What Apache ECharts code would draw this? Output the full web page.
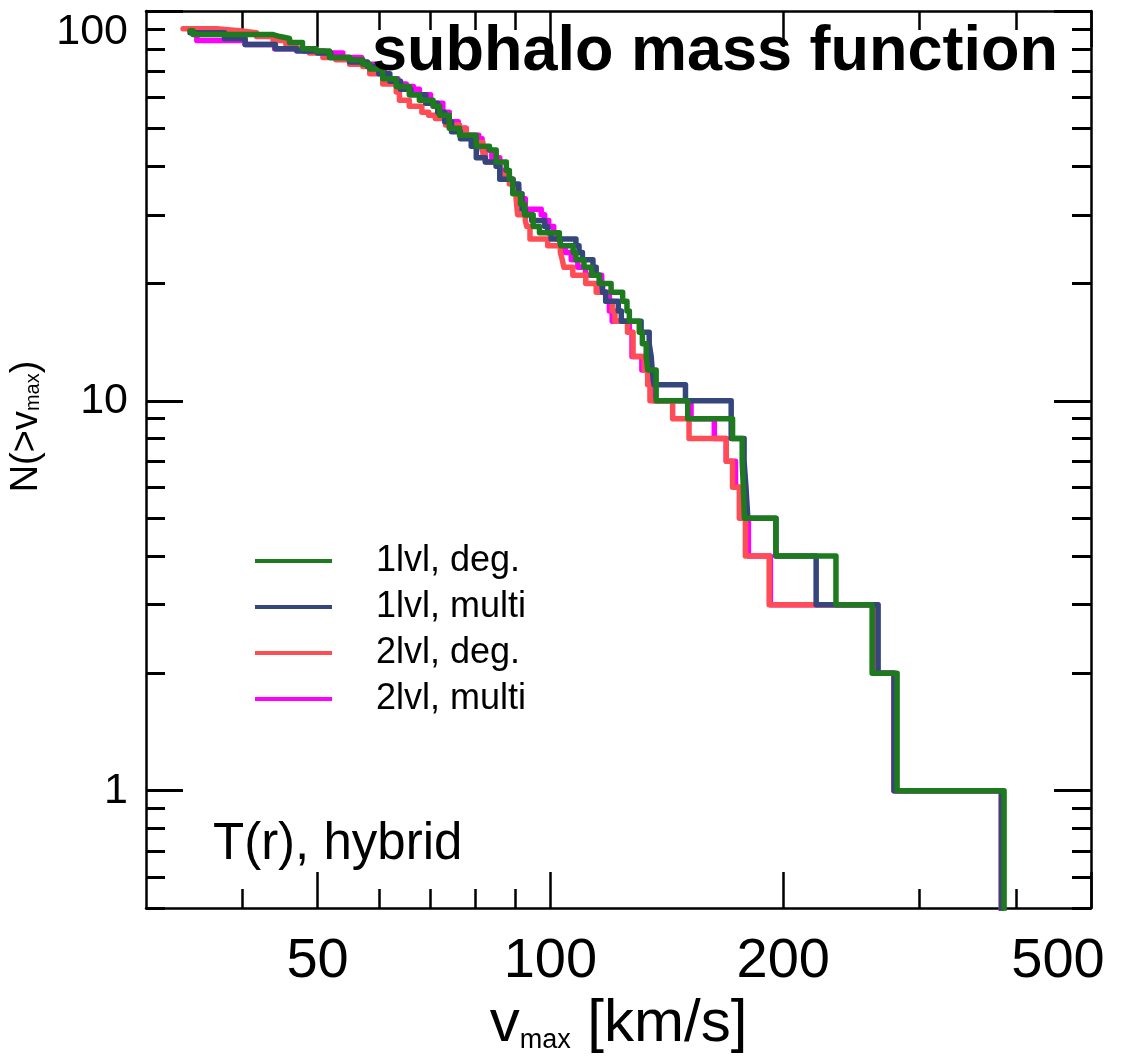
<!DOCTYPE html>
<html><head><meta charset="utf-8">
<script src="https://cdn.jsdelivr.net/npm/echarts@6/dist/echarts.min.js"></script>
<style>html,body{margin:0;padding:0;background:#fff}#c{width:1129px;height:1061px}</style>
</head><body><div id="c"></div>
<script>
// ---- tick values ----
const xMajorTicks = [50, 100, 200, 500];
const xMinorTicks = [40, 60, 70, 80, 90, 300, 400];
const yMajorTicks = [1, 10, 100];
const yMinorTicks = [0.5, 0.6, 0.7, 0.8, 0.9, 2, 3, 4, 5, 6, 7, 8, 9, 20, 30, 40, 50, 60, 70, 80, 90];

// ---- series names ----
const seriesNames = ['1lvl, deg.', '1lvl, multi', '2lvl, deg.', '2lvl, multi'];

// ---- cumulative counts N(>vmax): [vmax, N] (step changes) ----
const lvl1Deg = [[34.2,89],[34.5,87],[43.8,86],[44.7,85],[46.0,83],[47.8,80],[49.8,79],[51.8,76],[55.0,75],[57.2,73],[58.4,71],[60.7,67],[63.2,64],[65.7,61],[67.7,59],[70.5,57],[71.9,54],[74.0,50],[76.3,48],[80.2,45],[83.4,44],[85.1,41],[87.7,39],[88.5,37],[89.4,34],[91.5,32],[92.6,30],[95.0,28],[96.8,27],[102.7,26],[103.1,25],[107.0,24],[107.9,23],[110.5,22],[113.0,21],[115.7,20],[119.8,19],[124.0,18],[125.6,17],[126.5,16],[130.3,15],[131.5,14],[133.0,13],[133.6,12],[137.0,10],[150.5,9],[172.0,8],[177.0,7],[177.6,6],[178.2,5],[195.7,4],[234.0,3],[260.6,2],[280.7,1],[386,0.1]];
const lvl1Multi = [[34.2,88],[37.9,85],[40.3,82],[44.1,80],[47.0,79],[50.0,78],[52.0,76],[55.0,74],[58.0,72],[60.0,69],[62.0,66],[64.0,63],[66.0,61],[69.0,58],[71.5,55],[73.0,52],[74.5,49],[76.5,47],[79.0,45],[80.2,42],[82.4,41],[85.1,40],[86.0,37],[89.4,36],[91.0,34],[91.9,31],[92.8,30],[94.6,29],[98.3,28],[99.2,27],[100.2,26],[107.9,25],[108.9,24],[110.0,23],[113.5,22],[114.6,21],[115.7,20],[116.8,19],[117.9,18],[122.4,17],[123.5,16],[131.0,15],[134.2,14],[135.0,13],[135.4,12],[136.1,11],[149.5,10],[171.3,8],[178.0,7],[179.0,6],[180.0,5],[195.7,4],[220.6,3],[265.3,2],[278.2,1],[383,0.1]];
const lvl2Deg = [[33.5,90],[37.0,89],[39.6,88],[41.7,86],[43.8,84],[45.5,82],[46.9,80],[48.8,78],[50.8,76],[52.8,75],[55.0,73],[57.2,72],[58.4,69],[60.7,65],[63.2,62],[63.8,59],[65.7,57],[68.2,55],[69.6,54],[71.0,53],[73.2,51],[76.3,50],[77.8,48],[79.3,46],[81.8,43],[82.4,41],[85.1,40],[86.0,38],[88.5,36],[89.4,35],[90.3,33],[90.7,30],[92.8,29],[93.2,28],[94.1,26],[99.2,25],[103.0,24],[103.6,23],[104.1,22],[106.9,21],[111.1,20],[114.6,19],[117.9,18],[120.2,17],[121.2,16],[125.8,15],[127.9,13],[132.2,12],[133.6,11],[134.5,10],[143.9,9],[151.1,8],[168.8,7],[172.0,6],[175.5,5],[178.7,4],[191.8,3],[264.5,2],[278.2,1],[383,0.1]];
const lvl2Multi = [[34.5,88],[34.9,84],[40.3,82],[44.0,80],[48.0,79],[51.0,78],[53.9,76],[57.0,73],[59.0,70],[61.0,67],[63.5,65],[65.1,64],[66.5,63],[67.7,61],[70.0,58],[72.6,55],[74.0,52],[76.0,50],[77.8,48],[80.8,47],[81.6,44],[84.0,42],[86.0,39],[88.0,37],[89.5,35],[91.0,33],[92.8,31],[97.3,30],[98.3,29],[99.5,28],[101.0,27],[102.0,26],[103.0,25],[104.5,24],[106.4,23],[108.5,22],[111.0,21],[116.5,19],[119.2,17],[120.2,16],[126.5,15],[127.5,13],[131.3,12],[134.5,11],[136.0,10],[152.0,9],[162.9,8],[168.8,7],[173.5,6],[176.0,5],[180.3,4],[192.5,3],[264.0,2],[278.2,1],[383,0.1]];

const FONT = "'Liberation Sans', Arial, Helvetica, sans-serif";
const colors = {g:'#1e7a1e', b:'#34467c', r:'#ff4d55', m:'#ff00ff'};

function xAxisDef(pos, ticks, len, labels, line) {
  return {
    type:'log', logBase:10, min:30, max:500, position:pos,
    axisLine:{show:line, onZero:false, lineStyle:{color:'#000', width:2.5}},
    axisTick:{show:true, inside:true, length:len, customValues:ticks, lineStyle:{color:'#000', width:2.5}},
    axisLabel: labels ? {show:true, customValues:ticks, margin:26, fontSize:56, color:'#000', fontFamily:FONT,
      formatter:(v)=> v === 500 ? '{r|' + v + '}' : String(v),
      rich:{r:{fontSize:56, fontFamily:FONT, color:'#000', padding:[0,66,0,0]}}} : {show:false},
    minorTick:{show:false}, splitLine:{show:false}
  };
}
function yAxisDef(pos, ticks, len, labels, line) {
  return {
    type:'log', logBase:10, min:0.5, max:100, position:pos,
    axisLine:{show:line, onZero:false, lineStyle:{color:'#000', width:2.5}},
    axisTick:{show:true, inside:true, length:len, customValues:ticks, lineStyle:{color:'#000', width:3}},
    axisLabel: labels ? {show:true, customValues:ticks, margin:18, fontSize:43, color:'#000', fontFamily:FONT, formatter:(v)=>String(v), verticalAlignMaxLabel:'top'} : {show:false},
    minorTick:{show:false}, splitLine:{show:false}
  };
}

const xAxes = [
  xAxisDef('bottom', xMajorTicks, 36, true, true),
  xAxisDef('bottom', xMinorTicks, 19, false, false),
  xAxisDef('top', xMajorTicks, 36, false, true),
  xAxisDef('top', xMinorTicks, 19, false, false)
];
Object.assign(xAxes[0], {
  name:'{a|v}{s|max}{a| [km/s]}', nameLocation:'middle', nameGap:80,
  nameTextStyle:{rich:{
    a:{fontSize:60, fontFamily:FONT, color:'#000', lineHeight:64, verticalAlign:'top'},
    s:{fontSize:27, fontFamily:FONT, color:'#000', lineHeight:64, verticalAlign:'top', padding:[32,0,0,0]}
  }}
});
const yAxes = [
  yAxisDef('left', yMajorTicks, 37, true, true),
  yAxisDef('left', yMinorTicks, 19, false, false),
  yAxisDef('right', yMajorTicks, 37, false, true),
  yAxisDef('right', yMinorTicks, 19, false, false)
];
Object.assign(yAxes[0], {
  name:'{a|N(>v}{s|max}{a|)}', nameLocation:'middle', nameGap:88,
  nameTextStyle:{padding:[0,0,0,66], rich:{
    a:{fontSize:38, fontFamily:FONT, color:'#000', lineHeight:42},
    s:{fontSize:20, fontFamily:FONT, color:'#000', lineHeight:42, padding:[15,0,0,0]}
  }}
});

function lineSeries(name, data, color) {
  return {name, type:'line', data, step:'end', showSymbol:false, symbol:'none',
    xAxisIndex:0, yAxisIndex:0, clip:true,
    lineStyle:{color, width:5.5, join:'round', cap:'round'}, itemStyle:{color}};
}

const chart = echarts.init(document.getElementById('c'), null, {renderer:'canvas'});
chart.setOption({
  animation:false,
  backgroundColor:'#fff',
  grid:{left:146, right:38, top:11, bottom:153, containLabel:false, outerBoundsMode:'none'},
  xAxis:xAxes,
  yAxis:yAxes,
  legend:{
    show:true, orient:'vertical', left:250, top:536,
    data:seriesNames, icon:'rect', itemWidth:77, itemHeight:4, itemGap:6,
    textStyle:{fontSize:36, fontFamily:FONT, color:'#000', lineHeight:40, padding:[0,0,0,39]}
  },
  series:[
    lineSeries(seriesNames[3], lvl2Multi, colors.m),
    lineSeries(seriesNames[2], lvl2Deg, colors.r),
    lineSeries(seriesNames[1], lvl1Multi, colors.b),
    lineSeries(seriesNames[0], lvl1Deg, colors.g)
  ],
  graphic:[
    {type:'text', x:1058, y:53, z:100, style:{text:'subhalo mass function', fill:'#000', font:"bold 63px "+FONT, align:'right', verticalAlign:'middle'}},
    {type:'text', x:213, y:845, z:100, style:{text:'T(r), hybrid', fill:'#000', font:"51px "+FONT, align:'left', verticalAlign:'middle'}}
  ]
});
</script>
</body></html>
